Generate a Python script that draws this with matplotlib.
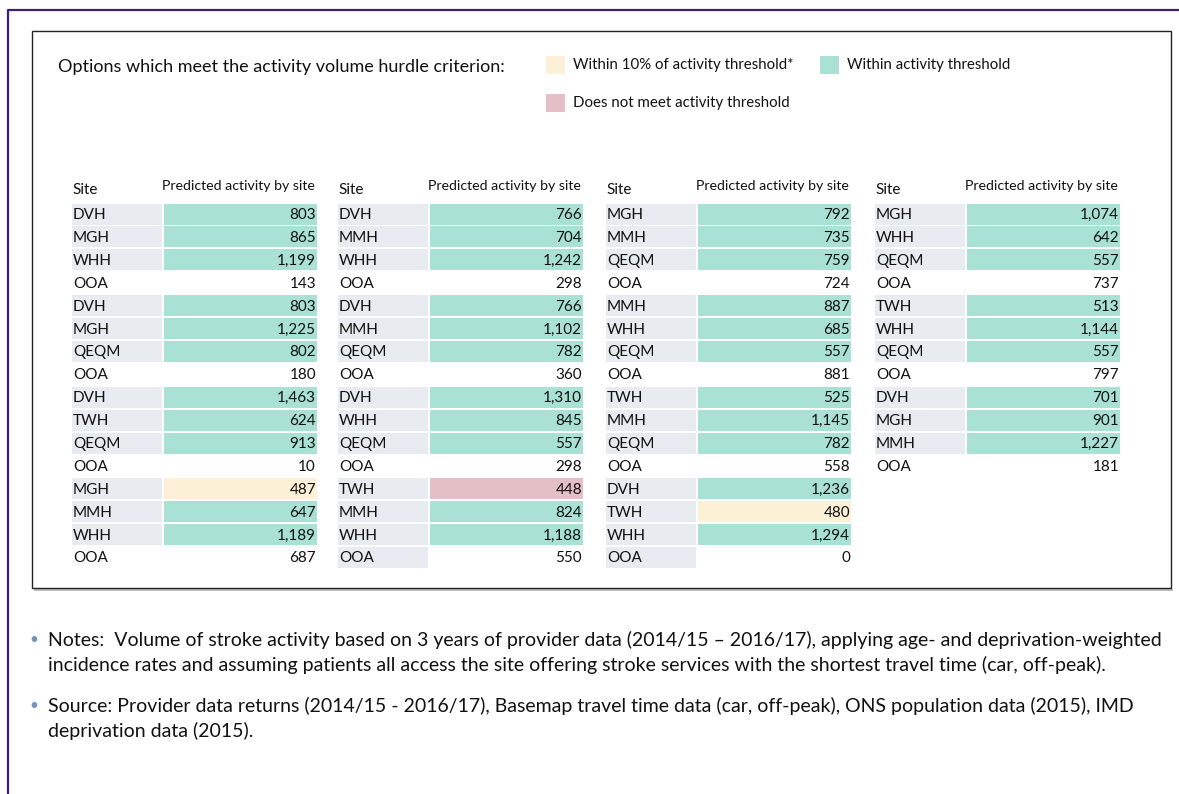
import matplotlib.pyplot as plt
from matplotlib.patches import Rectangle

# status codes: g = within activity threshold, y = within 10% of threshold,
# p = does not meet threshold, o = out of area (no colour)
sites_1 = ["DVH", "MGH", "WHH", "OOA", "DVH", "MGH", "QEQM", "OOA",
           "DVH", "TWH", "QEQM", "OOA", "MGH", "MMH", "WHH", "OOA"]
values_1 = [803, 865, 1199, 143, 803, 1225, 802, 180,
            1463, 624, 913, 10, 487, 647, 1189, 687]
status_1 = ["g", "g", "g", "o", "g", "g", "g", "o",
            "g", "g", "g", "o", "y", "g", "g", "o"]

sites_2 = ["DVH", "MMH", "WHH", "OOA", "DVH", "MMH", "QEQM", "OOA",
           "DVH", "WHH", "QEQM", "OOA", "TWH", "MMH", "WHH", "OOA"]
values_2 = [766, 704, 1242, 298, 766, 1102, 782, 360,
            1310, 845, 557, 298, 448, 824, 1188, 550]
status_2 = ["g", "g", "g", "o", "g", "g", "g", "o",
            "g", "g", "g", "o", "p", "g", "g", "o"]

sites_3 = ["MGH", "MMH", "QEQM", "OOA", "MMH", "WHH", "QEQM", "OOA",
           "TWH", "MMH", "QEQM", "OOA", "DVH", "TWH", "WHH", "OOA"]
values_3 = [792, 735, 759, 724, 887, 685, 557, 881,
            525, 1145, 782, 558, 1236, 480, 1294, 0]
status_3 = ["g", "g", "g", "o", "g", "g", "g", "o",
            "g", "g", "g", "o", "g", "y", "g", "o"]

sites_4 = ["MGH", "WHH", "QEQM", "OOA", "TWH", "WHH", "QEQM", "OOA",
           "DVH", "MGH", "MMH", "OOA"]
values_4 = [1074, 642, 557, 737, 513, 1144, 557, 797, 701, 901, 1227, 181]
status_4 = ["g", "g", "g", "o", "g", "g", "g", "o", "g", "g", "g", "o"]

panels = [(sites_1, values_1, status_1), (sites_2, values_2, status_2),
          (sites_3, values_3, status_3), (sites_4, values_4, status_4)]

legend_labels = ["Within 10% of activity threshold*", "Within activity threshold",
                 "Does not meet activity threshold"]

notes = ["Notes:  Volume of stroke activity based on 3 years of provider data (2014/15 \u2013 2016/17), applying age- and deprivation-weighted",
         "incidence rates and assuming patients all access the site offering stroke services with the shortest travel time (car, off-peak)."]
source = ["Source: Provider data returns (2014/15 - 2016/17), Basemap travel time data (car, off-peak), ONS population data (2015), IMD",
          "deprivation data (2015)."]

colors = {"g": "#a9e2d4", "y": "#fcf1d7", "p": "#e4bfc6"}
gray = "#e8ebef"
purple = "#3e1f78"
ink = "#111111"

plt.rcParams["font.family"] = ["Lato", "DejaVu Sans"]

fig = plt.figure(figsize=(11.79, 7.94), dpi=100)
ax = fig.add_axes([0, 0, 1, 1])
ax.set_xlim(0, 1179)
ax.set_ylim(794, 0)
ax.axis("off")

# outer purple frame and inner box
ax.plot([8, 8, 1179], [794, 10, 10], color=purple, lw=1.6, solid_capstyle="butt")
ax.add_patch(Rectangle((34, 588.5), 1139, 2, color="#bdbdbd", lw=0))
ax.add_patch(Rectangle((32, 31), 1139, 557, fill=False, edgecolor="#222222", lw=1))

# legend
ax.text(58, 67, "Options which meet the activity volume hurdle criterion:",
        fontsize=13, va="center", ha="left", color=ink)
leg_pos = [(546, 65), (820, 65), (546, 103)]
leg_codes = ["y", "g", "p"]
for (lx, ly), code, lab in zip(leg_pos, leg_codes, legend_labels):
    ax.add_patch(Rectangle((lx, ly - 9), 19, 18, color=colors[code], lw=0))
    ax.text(lx + 27, ly, lab, fontsize=10.8, va="center", ha="left", color=ink)

# tables
col_left = [72, 338, 606, 875]
site_w = 90
gap = 2
val_w = 153
row0 = 214
pitch = 22.9
row_h = 21
shaded_ooa = {(1, 3), (2, 3)}  # (panel, group) where the OOA site cell is shaded

for p, (sites, vals, stat) in enumerate(panels):
    x0 = col_left[p]
    ax.text(x0, 190, "Site", fontsize=11, va="center", ha="left", color=ink)
    ax.text(x0 + site_w + gap + val_w / 2 - 2, 186, "Predicted activity by site",
            fontsize=10.2, va="center", ha="center", color=ink)
    ys = [row0 + i * pitch for i in range(len(sites))]
    for i, (s, v, st) in enumerate(zip(sites, vals, stat)):
        y = ys[i]
        if st != "o" or (p, i // 4) in shaded_ooa:
            ax.barh(y, site_w, left=x0, height=row_h, color=gray, lw=0)
        if st != "o":
            ax.barh(y, val_w, left=x0 + site_w + gap, height=row_h,
                    color=colors[st], lw=0)
        ax.text(x0 + 1, y + 1, s, fontsize=11, va="center", ha="left", color=ink)
        ax.text(x0 + site_w + gap + val_w - 1, y + 1, f"{v:,}", fontsize=11,
                va="center", ha="right", color=ink)

# notes
for by, lines in [(640, notes), (706, source)]:
    ax.text(34, by, "\u2022", fontsize=11, va="center", ha="center", color="#6f93b5")
    for k, line in enumerate(lines):
        ax.text(48, by + k * 25, line, fontsize=14, va="center", ha="left",
                color=ink)

fig.savefig("out.png", dpi=100)
